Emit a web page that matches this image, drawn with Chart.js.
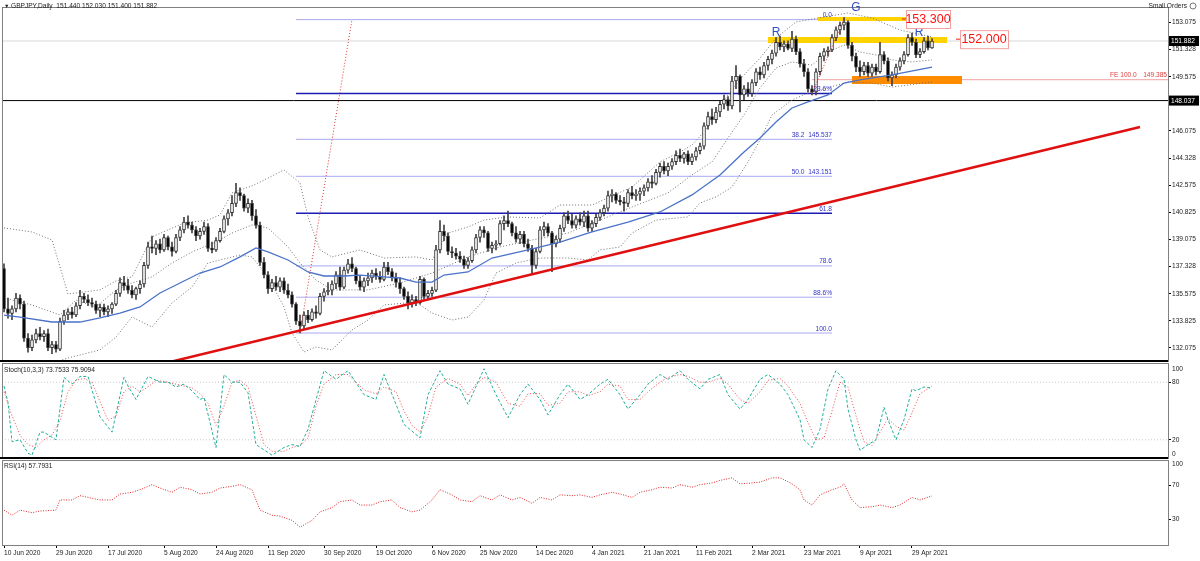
<!DOCTYPE html>
<html>
<head>
<meta charset="utf-8">
<script src="https://cdn.jsdelivr.net/npm/chart.js@4.4.1/dist/chart.umd.min.js"></script>
<style>
  html, body { margin: 0; padding: 0; background: #fff; }
  #wrap { position: relative; width: 1200px; height: 561px; overflow: hidden; }
  canvas { position: absolute; left: 0; }
</style>
</head>
<body>
<div id="wrap">
  <canvas id="main" width="1200" height="362" style="top:0"></canvas>
  <canvas id="stoch" width="1200" height="97" style="top:362px"></canvas>
  <canvas id="rsi" width="1200" height="102" style="top:459px"></canvas>
</div>
<script>
"use strict";
/* GBPJPY daily, Jun 2020 - May 2021: candles + BB + MA, stoch and RSI panes. */

// ---- data ----
const xTickIdx = [0, 13, 26, 40, 53, 66, 80, 93, 107, 119, 133, 147, 160, 173, 187, 200, 214, 227];
const xTickLabels = ["10 Jun 2020", "29 Jun 2020", "17 Jul 2020", "5 Aug 2020", "24 Aug 2020", "11 Sep 2020",
  "30 Sep 2020", "19 Oct 2020", "6 Nov 2020", "25 Nov 2020", "14 Dec 2020", "4 Jan 2021", "21 Jan 2021",
  "11 Feb 2021", "2 Mar 2021", "23 Mar 2021", "9 Apr 2021", "29 Apr 2021"];
const priceTicks = [153.075, 151.328, 149.575, 146.075, 144.328, 142.575, 140.825, 139.075, 137.328, 135.575, 133.825, 132.075];

// [open, high, low, close] per daily bar
const ohlc = [
  [137.2,137.5,134.4,134.6],[134.6,135.3,134.0,134.3],[134.3,134.8,133.9,134.6],[134.6,135.6,134.4,135.3],
  [135.3,135.5,134.6,134.9],[134.9,135.1,132.5,132.7],[132.7,133.0,131.8,132.1],[132.1,132.9,131.9,132.6],
  [132.6,133.3,132.4,133.0],[133.0,133.4,132.6,132.8],[132.8,133.2,132.5,133.0],[133.0,133.3,131.9,132.1],
  [132.1,132.5,131.7,132.3],[132.3,132.5,131.8,132.0],[132.0,134.0,131.9,133.8],[133.8,134.5,133.6,134.2],
  [134.2,134.6,133.9,134.4],[134.4,134.7,134.0,134.2],[134.2,135.0,134.1,134.8],[134.8,135.8,134.6,135.4],
  [135.4,135.6,135.0,135.2],[135.2,135.5,134.8,135.0],[135.0,135.3,134.7,134.9],[134.9,135.1,134.3,134.5],
  [134.5,134.9,134.1,134.7],[134.7,134.9,134.2,134.4],[134.4,134.8,134.1,134.6],[134.6,135.0,134.3,134.9],
  [134.9,135.8,134.8,135.6],[135.6,136.6,135.4,136.3],[136.3,136.7,135.8,136.1],[136.1,136.5,135.6,135.8],
  [135.8,136.1,135.3,135.5],[135.5,136.0,135.2,135.9],[135.9,136.4,135.6,136.2],[136.2,137.6,136.0,137.4],
  [137.4,138.9,137.2,138.6],[138.6,139.3,138.2,138.5],[138.5,139.0,138.1,138.8],[138.8,139.1,138.2,138.4],
  [138.4,139.4,138.3,139.2],[139.2,139.3,138.4,138.6],[138.6,138.9,138.0,138.3],[138.3,139.4,138.2,139.2],
  [139.2,139.9,139.0,139.7],[139.7,140.5,139.5,140.2],[140.2,140.6,139.8,140.0],[140.0,140.2,139.5,139.7],
  [139.7,139.9,139.0,139.3],[139.3,139.8,139.1,139.6],[139.6,140.2,139.4,139.9],[139.9,140.1,138.3,138.5],
  [138.5,138.9,138.2,138.4],[138.4,139.2,138.3,139.0],[139.0,139.8,138.9,139.6],[139.6,140.6,139.5,140.4],
  [140.4,141.0,140.0,140.8],[140.8,141.9,140.6,141.4],[141.4,142.7,141.2,142.1],[142.1,142.4,141.6,141.9],
  [141.9,142.0,140.9,141.1],[141.1,141.7,140.8,141.4],[141.4,141.6,140.3,140.6],[140.6,141.0,139.8,140.0],
  [140.0,140.2,137.4,137.6],[137.6,137.9,136.6,136.8],[136.8,137.0,135.6,135.9],[135.9,136.5,135.7,136.3],
  [136.3,136.7,135.8,136.0],[136.0,136.6,135.7,136.4],[136.4,136.6,135.6,135.8],[135.8,136.2,135.3,135.5],
  [135.5,135.7,134.7,134.9],[134.9,135.0,133.6,133.8],[133.8,134.2,133.04,133.5],[133.5,134.4,133.3,134.2],
  [134.2,134.5,133.7,133.9],[133.9,134.6,133.8,134.4],[134.4,134.8,134.0,134.3],[134.3,135.6,134.2,135.4],
  [135.4,135.9,135.1,135.7],[135.7,136.3,135.5,135.8],[135.8,136.4,135.5,136.2],[136.2,137.0,135.9,136.8],
  [136.8,137.3,135.8,136.0],[136.0,137.3,135.9,137.1],[137.1,137.8,136.9,137.5],[137.5,137.9,137.0,137.2],
  [137.2,137.3,136.2,136.4],[136.4,136.7,135.8,136.0],[136.0,136.6,135.7,136.4],[136.4,136.9,136.1,136.6],
  [136.6,137.1,136.3,136.9],[136.9,137.2,136.5,136.7],[136.7,137.0,136.3,136.5],[136.5,137.6,136.4,137.3],
  [137.3,137.6,136.8,137.0],[137.0,137.2,136.4,136.6],[136.6,136.9,136.0,136.3],[136.3,136.6,135.6,135.9],
  [135.9,136.0,135.2,135.4],[135.4,135.7,134.6,135.0],[135.0,135.5,134.7,135.2],[135.2,135.4,134.8,135.0],
  [135.0,136.7,134.9,136.5],[136.5,136.6,135.2,135.4],[135.4,135.8,135.2,135.6],[135.6,136.0,135.4,135.8],
  [135.8,138.7,135.7,138.4],[138.4,140.3,138.2,139.6],[139.6,140.0,139.0,139.3],[139.3,139.5,138.1,138.3],
  [138.3,138.6,137.9,138.2],[138.2,138.5,137.8,138.0],[138.0,138.3,137.6,137.8],[137.8,138.0,137.2,137.4],
  [137.4,137.9,137.2,137.7],[137.7,138.6,137.6,138.4],[138.4,139.4,138.2,139.2],[139.2,139.9,138.9,139.7],
  [139.7,139.9,139.2,139.5],[139.5,139.6,138.3,138.5],[138.5,138.9,138.2,138.7],[138.7,139.0,138.4,138.8],
  [138.8,140.3,138.7,140.1],[140.1,140.6,139.7,140.3],[140.3,140.9,139.9,140.1],[140.1,140.2,139.3,139.5],
  [139.5,139.9,138.9,139.1],[139.1,139.6,138.8,139.4],[139.4,139.6,138.6,138.8],[138.8,139.1,138.3,138.5],
  [138.5,138.7,136.8,137.4],[137.4,138.5,137.2,138.3],[138.3,139.9,138.2,139.7],[139.7,140.2,139.3,139.9],
  [139.9,140.1,139.3,139.5],[139.5,139.6,137.0,138.8],[138.8,139.3,138.6,139.1],[139.1,140.0,138.9,139.8],
  [139.8,140.8,139.6,140.6],[140.6,140.9,140.1,140.3],[140.3,140.7,139.8,140.0],[140.0,140.6,139.8,140.4],
  [140.4,140.8,140.0,140.2],[140.2,140.9,139.9,140.6],[140.6,140.9,139.6,139.8],[139.8,140.3,139.6,140.1],
  [140.1,140.7,139.9,140.5],[140.5,141.0,140.3,140.8],[140.8,141.3,140.6,141.1],[141.1,142.2,140.9,141.9],
  [141.9,142.3,141.5,142.0],[142.0,142.1,141.4,141.6],[141.6,141.9,141.3,141.5],[141.5,141.8,140.9,141.4],
  [141.4,142.3,141.2,142.1],[142.1,142.5,141.7,141.9],[141.9,142.3,141.6,142.0],[142.0,142.4,141.6,142.2],
  [142.2,142.6,141.9,142.4],[142.4,143.0,142.2,142.8],[142.8,143.2,142.4,142.7],[142.7,143.6,142.6,143.4],
  [143.4,144.0,143.1,143.8],[143.8,144.1,143.3,143.5],[143.5,144.0,143.2,143.8],[143.8,144.3,143.6,144.1],
  [144.1,144.8,143.9,144.5],[144.5,144.9,144.1,144.3],[144.3,144.7,144.0,144.6],[144.6,144.8,143.9,144.1],
  [144.1,144.6,143.9,144.4],[144.4,145.0,144.2,144.8],[144.8,145.3,144.6,145.1],[145.1,146.6,144.9,146.4],
  [146.4,147.3,146.2,147.0],[147.0,147.5,146.5,146.8],[146.8,147.6,146.6,147.3],[147.3,148.0,147.0,147.8],
  [147.8,148.4,147.5,148.1],[148.1,148.3,147.4,147.7],[147.7,149.6,147.5,149.3],[149.3,150.3,148.8,149.6],
  [149.6,149.7,147.3,148.4],[148.4,149.0,148.1,148.8],[148.8,149.2,148.3,148.5],[148.5,149.4,148.3,149.2],
  [149.2,150.1,149.0,149.9],[149.9,150.2,149.4,149.7],[149.7,150.5,149.5,150.3],[150.3,150.9,150.0,150.7],
  [150.7,151.3,150.4,151.1],[151.1,152.1,150.9,151.8],[151.8,152.2,151.3,151.5],[151.5,151.9,151.2,151.7],
  [151.7,151.9,151.3,151.4],[151.4,152.5,151.2,152.0],[152.0,152.2,151.0,151.2],[151.2,151.4,150.2,150.4],
  [150.4,150.7,149.6,149.9],[149.9,150.1,148.6,148.8],[148.8,149.0,148.4,148.6],[148.6,150.1,148.4,149.9],
  [149.9,151.1,149.7,150.9],[150.9,151.4,150.6,151.2],[151.2,151.5,150.9,151.3],[151.3,152.3,151.2,152.1],
  [152.1,152.8,151.9,152.6],[152.6,153.1,152.3,152.9],[152.9,153.4,152.6,153.1],[153.1,153.2,151.4,151.6],
  [151.6,151.8,150.6,150.9],[150.9,151.1,149.9,150.2],[150.2,150.6,149.6,149.9],[149.9,150.5,149.7,150.3],
  [150.3,150.5,149.6,149.8],[149.8,150.4,149.6,150.2],[150.2,150.4,149.7,149.9],[149.9,151.8,149.8,151.0],
  [151.0,151.2,150.4,150.6],[150.6,150.8,149.3,149.5],[149.5,149.9,149.0,149.7],[149.7,150.4,149.5,150.2],
  [150.2,150.8,150.0,150.6],[150.6,151.2,150.4,151.0],[151.0,152.3,150.9,152.1],[152.1,152.4,151.6,151.8],
  [151.8,152.0,150.8,151.0],[151.0,151.4,150.8,151.2],[151.2,152.1,151.1,151.9],[151.9,152.2,151.3,151.44],
  [151.44,152.03,151.40,151.882]
];

// [bar, value] readings of the indicator curves
const maLine = [[0,134.2],[4,134.07],[12,133.75],[19,133.75],[24,134.01],[29,134.33],[34,134.72],[39,135.62],
  [44,136.27],[49,136.91],[54,137.3],[59,137.95],[63,138.53],[66,138.27],[71,137.75],[76,136.98],[80,136.72],
  [85,136.72],[89,136.78],[95,136.66],[99,136.59],[103,136.33],[107,136.33],[110,136.78],[116,136.98],
  [122,137.88],[131,138.4],[139,138.91],[147,139.56],[156,140.2],[164,140.85],[172,141.95],[179,143.24],
  [185,144.72],[189,145.62],[193,146.66],[197,147.56],[201,147.95],[206,148.4],[210,149.17],[214,149.37],
  [222,149.69],[232,150.2]];
const bbUpper = [[0,139.82],[7,139.56],[12,139.04],[14,137.3],[16,135.56],[24,135.82],[28,136.4],[32,136.66],
  [35,138.2],[37,139.24],[45,140.14],[51,140.33],[54,140.66],[57,142.08],[62,142.53],[65,142.91],[70,143.56],
  [74,142.72],[76,140.53],[79,138.4],[82,137.95],[89,138.4],[95,137.88],[103,137.95],[107,137.75],[111,139.49],
  [116,139.88],[120,140.33],[126,140.53],[134,140.46],[139,141.3],[147,141.3],[157,142.46],[164,144.08],
  [169,144.72],[172,145.17],[175,146.01],[181,148.4],[185,149.69],[189,150.78],[193,152.07],[198,153.11],
  [205,153.43],[211,153.69],[217,153.37],[224,152.59],[232,152.14]];
const bbMiddle = [[0,135.3],[7,134.85],[14,134.2],[18,135.17],[23,134.72],[28,135.82],[32,136.27],[37,136.66],
  [42,137.56],[47,138.27],[53,138.91],[57,139.49],[62,140.01],[66,139.82],[71,138.59],[74,137.56],[78,136.46],
  [82,135.82],[91,135.82],[99,136.27],[107,136.91],[116,137.95],[124,138.59],[132,139.04],[141,139.49],
  [149,140.33],[157,141.17],[166,142.08],[172,143.24],[177,144.08],[181,145.62],[185,147.11],[189,148.85],
  [193,150.14],[197,150.53],[202,150.33],[206,151.17],[210,151.62],[214,151.17],[218,150.98],[222,150.66],
  [227,150.53],[232,150.66]];
const bbLower = [[0,130.53],[7,130.66],[16,131.43],[24,131.95],[28,132.78],[32,134.07],[37,133.43],[42,134.98],
  [47,136.01],[51,137.56],[54,137.75],[59,138.07],[62,137.95],[66,136.66],[70,134.72],[72,133.04],[75,131.82],
  [78,132.14],[82,131.95],[87,133.24],[91,133.88],[95,134.85],[103,135.04],[107,134.33],[112,133.88],
  [116,134.07],[120,135.17],[123,136.91],[128,137.56],[134,137.88],[141,137.88],[146,137.75],[149,138.4],
  [154,138.59],[157,139.49],[163,140.33],[171,140.53],[174,141.43],[178,141.82],[182,142.46],[186,144.08],
  [189,145.49],[192,147.11],[197,148.07],[201,148.53],[204,148.72],[211,149.24],[217,149.17],[222,148.91],
  [226,149.04],[232,149.24]];

const stochK = [[0,76],[1,59],[2,18],[4,20],[6,6],[7,4],[9,28],[10,28],[13,20],[15,85],[17,78],[19,86],[21,86],
  [24,44],[27,28],[30,85],[31,76],[33,62],[36,86],[39,80],[41,80],[43,75],[45,78],[47,71],[49,62],[50,64],
  [53,12],[55,88],[57,80],[59,80],[61,69],[63,15],[67,4],[70,12],[72,15],[74,13],[76,31],[80,92],[83,83],
  [86,92],[90,67],[93,62],[95,88],[98,57],[100,36],[104,22],[106,67],[109,92],[111,78],[114,73],[116,57],
  [120,94],[123,67],[126,43],[129,67],[131,78],[134,62],[136,46],[139,67],[141,78],[144,62],[146,67],[149,78],
  [151,83],[154,67],[156,52],[159,67],[161,78],[164,88],[166,83],[169,92],[171,83],[174,73],[176,83],[179,88],
  [181,67],[184,52],[186,62],[189,83],[191,88],[194,78],[196,67],[199,41],[200,20],[202,12],[204,31],[206,73],
  [208,92],[210,83],[211,52],[213,20],[214,9],[216,15],[218,20],[220,54],[221,41],[223,20],[225,41],[227,73],
  [228,71],[230,75],[232,73.75]];
const stochD = [[0,70],[2,45],[4,25],[6,15],[8,12],[10,20],[12,25],[14,40],[16,70],[18,82],[20,84],[22,80],
  [24,60],[26,40],[28,45],[30,70],[32,76],[34,70],[36,75],[38,82],[41,80],[43,78],[45,76],[47,74],[49,68],
  [51,58],[53,35],[55,55],[57,80],[59,82],[61,75],[63,45],[65,15],[67,8],[70,8],[72,12],[74,14],[76,22],
  [78,55],[80,78],[83,88],[86,88],[88,80],[90,72],[93,68],[95,75],[98,70],[100,50],[102,35],[104,28],[106,45],
  [108,75],[111,84],[114,78],[116,66],[118,78],[120,85],[123,80],[126,58],[129,55],[131,68],[134,68],[136,56],
  [139,58],[141,70],[144,70],[146,66],[149,70],[151,78],[154,76],[156,62],[159,62],[161,70],[164,80],[166,85],
  [169,88],[171,86],[174,80],[176,80],[179,84],[181,78],[184,62],[186,58],[189,70],[191,82],[194,84],[196,76],
  [199,58],[201,38],[203,20],[205,22],[207,50],[209,80],[211,75],[213,45],[215,18],[217,14],[219,28],[221,42],
  [223,34],[225,30],[227,48],[229,68],[232,75.91]];
const rsiLine = [[0,41],[2,35],[4,41],[7,38],[9,40],[13,41],[14,53],[17,53],[19,58],[22,55],[24,53],[27,53],
  [29,60],[32,62],[34,65],[37,71],[39,67],[42,62],[44,68],[47,65],[49,60],[52,62],[54,67],[57,69],[59,71],
  [62,65],[64,41],[67,35],[69,34],[72,29],[74,21],[77,29],[79,39],[82,44],[84,51],[87,53],[89,47],[92,47],
  [94,51],[97,53],[99,44],[102,39],[104,41],[107,53],[109,65],[112,59],[114,53],[117,51],[119,58],[122,53],
  [124,59],[127,53],[129,56],[132,49],[134,56],[137,53],[139,59],[142,58],[144,59],[147,56],[149,59],[152,62],
  [154,60],[157,56],[159,62],[162,65],[164,68],[167,67],[169,71],[172,68],[174,71],[177,73],[179,76],[182,79],
  [184,72],[187,73],[189,74],[192,79],[194,79],[197,72],[199,65],[200,53],[202,47],[204,59],[207,65],[209,68],
  [210,72],[212,53],[214,44],[217,45],[219,47],[222,44],[224,47],[227,56],[229,53],[232,57.79]];

// drawn objects: fibonacci levels, trend line, zones
const fibLevels = [153.26, 148.49, 145.537, 143.151, 140.765, 137.37, 135.35, 133.04];
const fibLabels = ["0.0", "23.6%", "38.2  145.537", "50.0  143.151", "61.8", "78.6", "88.6%", "100.0"];
const fibStrong = [false, true, false, false, true, false, false, false];
const fibSpan = [73, 207];
const fibRay1 = [[74, 133.04], [87, 153.26]];
const fibRay2 = [[202, 148.5], [210, 153.3]];
const trendLine = [[41.5, 131.17], [284, 146.33]];
const supportLevel = 148.037;
const lastPrice = 151.882;
const feLevel = 149.385;
const zone152 = { from: 191, to: 235.75, value: 151.95 };
const zone153 = { from: 203.5, to: 225.75, value: 153.3 };
const zoneOrange = { from: 212, to: 239.5, value: 149.37 };

const X_MIN = -0.5, X_MAX = 291;
const FONT = "Liberation Sans";
const SMALL = { family: FONT, size: 6.6 };

// ---- helpers ----
const pts = (arr) => arr.map(([x, y]) => ({ x, y }));
function line(data, color, width, dash, order) {
  return { type: "line", data: pts(data), borderColor: color, borderWidth: width, borderDash: dash || [],
    pointRadius: 0, tension: 0, fill: false, order: order == null ? 1 : order };
}
const hline = (v, a, b, color, width, dash, order) => line([[a, v], [b, v]], color, width, dash, order);

function xScale(show) {
  const sc = {
    type: "linear", min: X_MIN, max: X_MAX, offset: false, display: show,
    grid: { display: true, drawOnChartArea: false, drawTicks: true, tickLength: 3, color: "#000" },
    border: { display: false },
    afterBuildTicks: (s) => { s.ticks = xTickIdx.map((v) => ({ value: v })); },
    ticks: { autoSkip: false, maxRotation: 0, align: "start", padding: 1, color: "#222", font: SMALL,
      callback: (v) => xTickLabels[xTickIdx.indexOf(v)] },
  };
  if (show) sc.afterFit = (s) => { s.height = 16; s.paddingLeft = 0; s.paddingRight = 0; };
  return sc;
}
function yScale(min, max, ticks, labels) {
  return {
    type: "linear", position: "right", min, max,
    afterBuildTicks: (s) => { s.ticks = ticks.map((v) => ({ value: v })); },
    // fixed axis width; no extra inset for half-label overflow
    afterFit: (s) => { s.width = 32; s.paddingTop = 0; s.paddingBottom = 0; },
    grid: { drawOnChartArea: false, drawTicks: true, tickLength: 3, color: "#000" },
    border: { display: true, color: "#808080" },
    ticks: { padding: 1, color: "#222", font: SMALL, callback: (v) => labels[ticks.indexOf(v)] },
  };
}
function baseOptions(padTop, scales) {
  return { responsive: false, animation: false, devicePixelRatio: 1, events: [],
    layout: { padding: { left: 2, top: padTop, right: 0, bottom: 0 } },
    plugins: { legend: { display: false }, tooltip: { enabled: false } }, scales };
}
function frame(bottomThick) {
  return { id: "frame", afterDraw(chart) {
    const { ctx, chartArea: a } = chart;
    ctx.save();
    ctx.strokeStyle = "#808080"; ctx.lineWidth = 1;
    ctx.strokeRect(a.left + 0.5, a.top + 0.5, a.right - a.left, a.bottom - a.top);
    if (bottomThick) {
      ctx.strokeStyle = "#000"; ctx.lineWidth = 2;
      ctx.beginPath(); ctx.moveTo(0, a.bottom - 1); ctx.lineTo(a.right, a.bottom - 1); ctx.stroke();
    }
    ctx.restore();
  } };
}
function text(ctx, s, x, y, opt) {
  ctx.font = (opt.bold ? "bold " : "") + opt.size + "px " + FONT;
  ctx.fillStyle = opt.color || "#222";
  ctx.textAlign = opt.align || "left";
  ctx.textBaseline = opt.base || "middle";
  ctx.fillText(s, x, y);
}

// ---- main pane ----
const bodyColors = ohlc.map((r) => (r[3] >= r[0] ? "#ffffff" : "#000000"));
const mainSets = [];
fibLevels.forEach((v, k) => {
  mainSets.push(hline(v, fibSpan[0], fibSpan[1], fibStrong[k] ? "#1c1cb4" : "#a9a9f2", fibStrong[k] ? 1.5 : 1, [], 20));
});
mainSets.push(hline(supportLevel, X_MIN, X_MAX, "#000000", 1, [], 19));
mainSets.push(hline(lastPrice, X_MIN, X_MAX, "#d8d8d8", 1, [], 19));
mainSets.push(hline(feLevel, 202, X_MAX, "#f3a3a3", 1, [], 19));
mainSets.push(hline(zone152.value, zone152.from, zone152.to, "#ffd200", 6, [], 18));
mainSets.push(hline(zone153.value, zone153.from, zone153.to, "#ffd200", 4, [], 18));
mainSets.push(hline(zoneOrange.value, zoneOrange.from, zoneOrange.to, "#ff8c00", 8, [], 18));
mainSets.push(line(bbUpper, "#707070", 1, [1, 2], 12));
mainSets.push(line(bbMiddle, "#707070", 1, [1, 2], 12));
mainSets.push(line(bbLower, "#707070", 1, [1, 2], 12));
mainSets.push({ type: "bar", data: ohlc.map((r, i) => ({ x: i, y: [r[2], r[1]] })), backgroundColor: "#404040",
  barThickness: 1, grouped: false, order: 9 });
mainSets.push({ type: "bar", data: ohlc.map((r, i) => ({ x: i, y: [r[0], r[3]] })), backgroundColor: bodyColors,
  borderColor: "#303030", borderWidth: 1, borderSkipped: false, barThickness: 3, grouped: false, order: 8 });
mainSets.push(line(maLine, "#4a72c8", 1.3, [], 5));
mainSets.push(line(fibRay1, "#e03030", 1, [1, 2], 4));
mainSets.push(line(fibRay2, "#e03030", 1, [1, 2], 4));
mainSets.push(line(trendLine, "#e01010", 2.5, [], 3));

const mainLabels = { id: "mainLabels", afterDraw(chart) {
  const { ctx } = chart;
  const X = (i) => chart.scales.x.getPixelForValue(i);
  const Y = (v) => chart.scales.y.getPixelForValue(v);
  ctx.save();
  text(ctx, "\u25BC", 4, 6, { size: 5.5 });
  text(ctx, "GBPJPY,Daily  151.440 152.030 151.400 151.882", 11, 6, { size: 6.6 });
  text(ctx, "Small Orders", 1187, 6, { size: 6.6, align: "right" });
  ctx.strokeStyle = "#777"; ctx.beginPath(); ctx.arc(1193, 6, 3, 0, Math.PI * 2); ctx.stroke();

  fibLevels.forEach((v, k) => {
    text(ctx, fibLabels[k], X(fibSpan[1]), Y(v) - 1, { size: 6.6, color: "#3434c8", align: "right", base: "bottom" });
  });
  text(ctx, "FE 100.0", 1110, Y(feLevel) - 1, { size: 6.6, color: "#e04040", base: "bottom" });
  text(ctx, "149.385", 1167, Y(feLevel) - 1, { size: 6.6, color: "#e04040", align: "right", base: "bottom" });

  text(ctx, "R", X(193), Y(152.4), { size: 12, color: "#2f4fc4", align: "center" });
  text(ctx, "R", X(228.75), Y(152.4), { size: 12, color: "#2f4fc4", align: "center" });
  text(ctx, "G", X(213), Y(154.0), { size: 12, color: "#2f4fc4", align: "center" });

  const tag = (s, i0, i1, v) => {
    const x0 = X(i0), x1 = X(i1), y = Y(v);
    ctx.fillStyle = "#fff"; ctx.fillRect(x0, y - 9, x1 - x0, 18);
    ctx.strokeStyle = "#f2a0a0"; ctx.lineWidth = 1; ctx.strokeRect(x0 + 0.5, y - 9 + 0.5, x1 - x0, 18);
    ctx.strokeStyle = "#e02020"; ctx.beginPath(); ctx.moveTo(x0 - 4, y); ctx.lineTo(x0, y); ctx.stroke();
    text(ctx, s, (x0 + x1) / 2, y + 0.5, { size: 12.5, color: "#ff1010", align: "center" });
  };
  tag("153.300", 225.5, 236.5, 153.3);
  tag("152.000", 239, 251, 152.0);

  const box = (v, s) => {
    const y = Y(v);
    ctx.fillStyle = "#000"; ctx.fillRect(1169, y - 5, 30, 10);
    text(ctx, s, 1171, y + 0.5, { size: 6.6, color: "#fff" });
  };
  box(lastPrice, "151.882");
  box(supportLevel, "148.037");
  ctx.restore();
} };

new Chart(document.getElementById("main"), {
  data: { datasets: mainSets },
  options: baseOptions(7, {
    x: xScale(false),
    y: yScale(131.17, 154.075, priceTicks, priceTicks.map((v) => v.toFixed(3))),
  }),
  plugins: [frame(true), mainLabels],
});

// ---- stochastic pane ----
new Chart(document.getElementById("stoch"), {
  data: { datasets: [
    hline(80, X_MIN, X_MAX, "#c8c8c8", 1, [1, 2], 10),
    hline(20, X_MIN, X_MAX, "#c8c8c8", 1, [1, 2], 10),
    line(stochD, "#f04848", 1, [1, 2], 2),
    line(stochK, "#22b09a", 1, [3, 2], 1),
  ] },
  options: baseOptions(1, { x: xScale(false), y: yScale(0, 100, [80, 20], ["80", "20"]) }),
  plugins: [frame(true), { id: "stochLabel", afterDraw(chart) {
    const { ctx } = chart;
    text(ctx, "Stoch(10,3,3) 73.7533 75.9094", 4, 8, { size: 6.6 });
    text(ctx, "100", 1172, 7, { size: 6.6 });
    text(ctx, "0", 1172, 92, { size: 6.6 });
  } }],
});

// ---- RSI pane ----
new Chart(document.getElementById("rsi"), {
  data: { datasets: [line(rsiLine, "#e02424", 1, [1, 1.5], 1)] },
  options: baseOptions(1, { x: xScale(true), y: yScale(0, 100, [70, 30], ["70", "30"]) }),
  plugins: [frame(false), { id: "rsiLabel", afterDraw(chart) {
    const { ctx } = chart;
    text(ctx, "RSI(14) 57.7931", 4, 7, { size: 6.6 });
    text(ctx, "100", 1172, 5, { size: 6.6 });
  } }],
});
</script>
</body>
</html>
